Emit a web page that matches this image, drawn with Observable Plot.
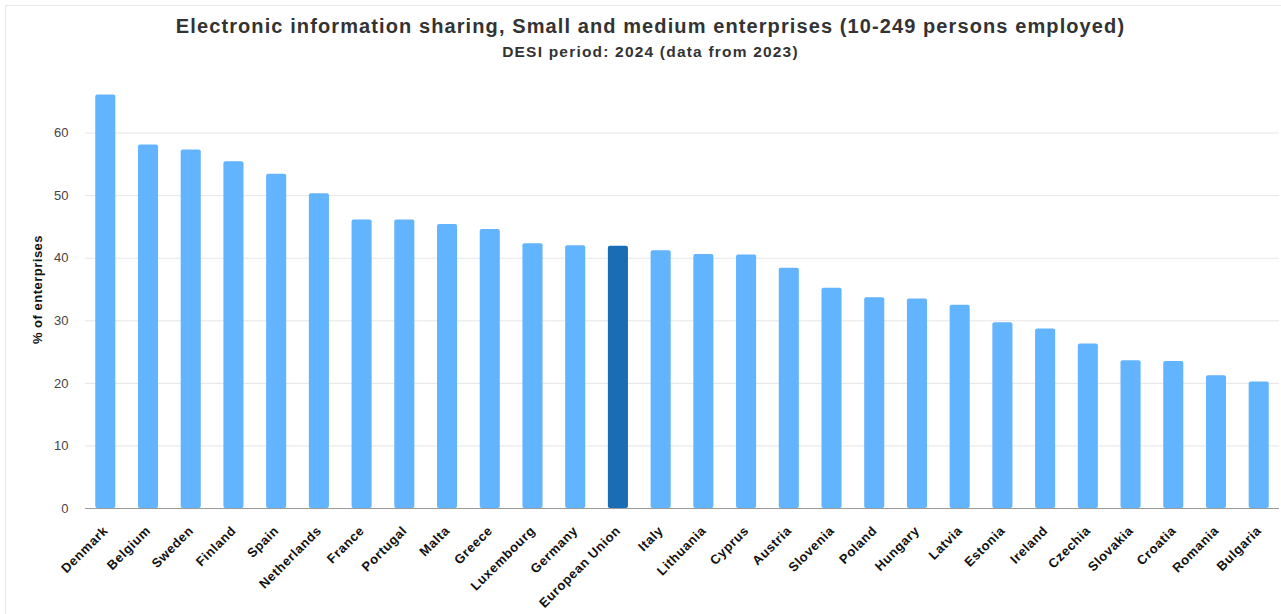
<!DOCTYPE html>
<html>
<head>
<meta charset="utf-8">
<script src="https://cdn.jsdelivr.net/npm/d3@7"></script>
<script src="https://cdn.jsdelivr.net/npm/@observablehq/plot@0.6"></script>
<style>
  html, body { margin: 0; padding: 0; background: #fff; }
  #wrap { position: relative; width: 1281px; height: 614px; overflow: hidden; font-family: "Liberation Sans", Arial, sans-serif; }
  #frame { position: absolute; left: 5px; top: 5px; right: 0; bottom: 0; border-top: 1px solid #e8e8e8; border-left: 1px solid #e8e8e8; pointer-events: none; }
  #title { position: absolute; left: 0; width: 1301px; top: 15px; text-align: center; font-weight: bold; font-size: 20px; letter-spacing: 1.1px; color: #333; }
  #subtitle { position: absolute; left: 0; width: 1301px; top: 43px; text-align: center; font-weight: bold; font-size: 15.5px; letter-spacing: 1.2px; color: #333; }
  #chart { position: absolute; left: 0; top: 70px; }
  #chart svg { overflow: visible; }
  g[aria-label="y-axis label"] text { font-weight: bold; font-size: 13px; letter-spacing: 0.5px; fill: #111; }
  g[aria-label="x-axis tick label"] text { font-weight: bold; font-size: 13px; letter-spacing: 0.6px; fill: #111; }
  g[aria-label="y-axis tick label"] text { font-size: 13px; fill: #444; }
</style>
</head>
<body>
<div id="wrap">
  <div id="frame"></div>
  <div id="title">Electronic information sharing, Small and medium enterprises (10-249 persons employed)</div>
  <div id="subtitle">DESI period: 2024 (data from 2023)</div>
  <div id="chart"></div>
</div>
<script>
const countries = ["Denmark","Belgium","Sweden","Finland","Spain","Netherlands","France","Portugal","Malta","Greece","Luxembourg","Germany","European Union","Italy","Lithuania","Cyprus","Austria","Slovenia","Poland","Hungary","Latvia","Estonia","Ireland","Czechia","Slovakia","Croatia","Romania","Bulgaria"];
const values = [66.1,58.1,57.3,55.4,53.4,50.3,46.1,46.1,45.4,44.6,42.3,42.0,41.9,41.2,40.6,40.5,38.4,35.2,33.7,33.5,32.5,29.7,28.7,26.3,23.6,23.5,21.2,20.2];
const yTicks = [0,10,20,30,40,50,60];
const highlight = "European Union";

const data = countries.map((c, i) => ({country: c, value: values[i]}));

const chart = Plot.plot({
  width: 1281,
  height: 544,
  marginLeft: 85,
  marginRight: 2,
  marginTop: 0,
  marginBottom: 106,
  style: {fontFamily: "Liberation Sans, Arial, sans-serif", fontSize: "12px", background: "transparent"},
  x: {domain: countries, paddingInner: 0.53, paddingOuter: 0.24, align: 0.5, round: false},
  y: {domain: [0, 70]},
  marks: [
    Plot.gridY(yTicks, {stroke: "#e6e6e6", strokeOpacity: 1}),
    Plot.barY(data, {
      x: "country",
      y: "value",
      fill: d => d.country === highlight ? "#1a6db5" : "#62b4fe",
      rx: 2
    }),
    Plot.ruleY([0], {stroke: "#9a9a9a", strokeWidth: 1.2}),
    Plot.axisX({tickSize: 0, tickRotate: -45, tickPadding: 20, label: null}),
    Plot.axisY({ticks: yTicks, tickSize: 0, tickPadding: 17, label: "% of enterprises", labelAnchor: "center", labelOffset: 53, labelArrow: "none"})
  ]
});
document.getElementById("chart").appendChild(chart);
</script>
</body>
</html>
